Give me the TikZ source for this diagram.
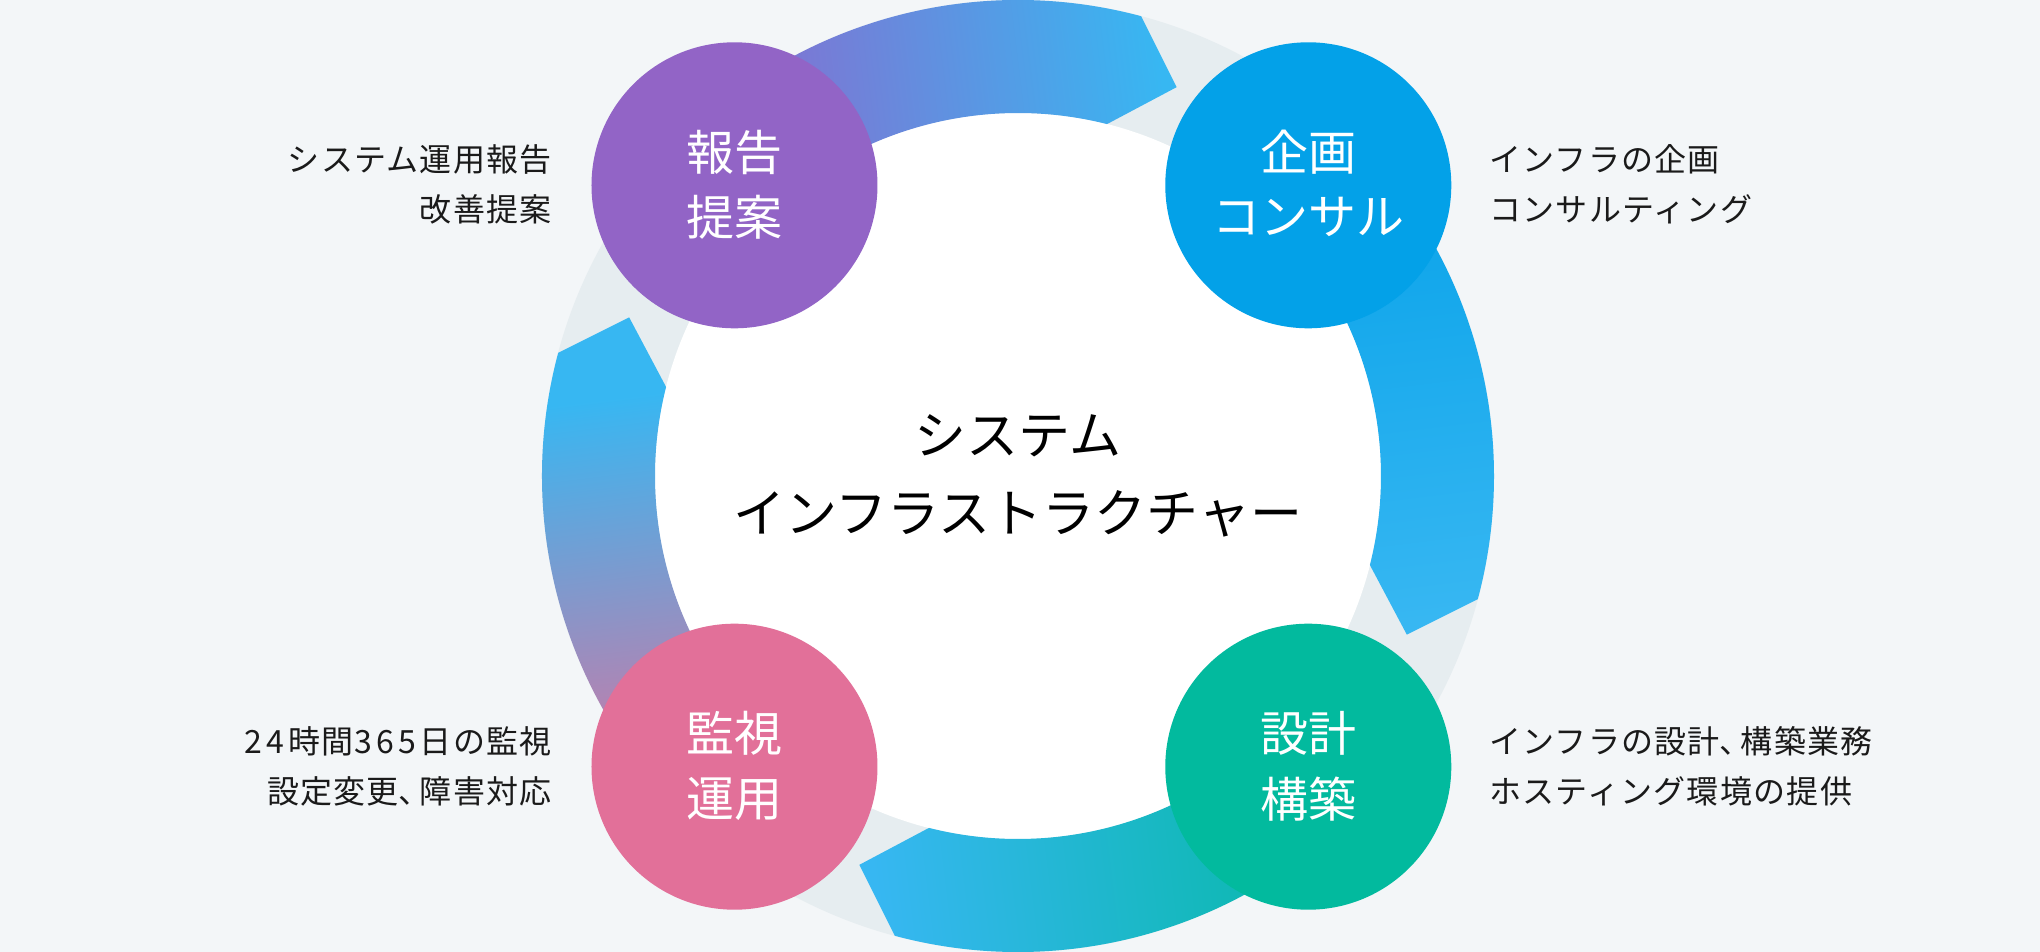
\documentclass[tikz,border=0pt]{standalone}
\usepackage{fontspec}
\setmainfont{Noto Sans CJK JP}
\newfontfamily\sidefont{Noto Sans CJK JP}[LetterSpace=4]
\newcommand\halfcomma{{\addfontfeature{RawFeature=+halt}、}\kern5pt}
\newcommand\dg[1]{#1\kern4pt}
\definecolor{bgc}{HTML}{F3F6F8}
\definecolor{ringc}{HTML}{E6EDF0}
\definecolor{purplec}{HTML}{9264C6}
\definecolor{bluec}{HTML}{03A1E8}
\definecolor{tealc}{HTML}{02BA9E}
\definecolor{pinkc}{HTML}{E27099}
\definecolor{lightc}{HTML}{37B7F2}
\definecolor{txtc}{HTML}{1A1A1A}
\definecolor{arrpurple}{HTML}{8E66CC}
\definecolor{arrblue}{HTML}{07A2E9}
\definecolor{arrteal}{HTML}{05B8A5}
\definecolor{arrpink}{HTML}{E2709A}
\pgfdeclareverticalshading{leftarrow}{100bp}{color(0bp)=(arrpink); color(22bp)=(arrpink); color(68bp)=(lightc); color(100bp)=(lightc)}
\begin{document}
\begin{tikzpicture}[x=1pt,y=1pt,
  sidetext/.style={font=\sidefont\fontsize{32}{38}\selectfont, text=txtc, inner sep=0pt},
  circtext/.style={font=\fontsize{48}{56}\selectfont, text=white, inner sep=0pt},
  centertext/.style={font=\fontsize{52}{60}\selectfont, text=black, inner sep=0pt},
  stage/.style={circle, minimum size=286pt, inner sep=0pt, draw=none}]
\fill[bgc] (-1018,-476) rectangle (1022,476);
\useasboundingbox (-1018,-476) rectangle (1022,476);
% ring
\fill[ringc] (0,0) circle[radius=476];
\fill[white] (0,0) circle[radius=363];
% arrows
\shade[left color=arrpurple, right color=lightc, shading angle=97]
  (135:476) arc[start angle=135, end angle=75, radius=476] -- (67.8:420) -- (75.8:363)
  arc[start angle=75.8, end angle=135, radius=363] -- cycle;
\shade[top color=arrblue, bottom color=lightc, shading angle=7]
  (45:476) arc[start angle=45, end angle=-15, radius=476] -- (-22.2:420) -- (-14.2:363)
  arc[start angle=-14.2, end angle=45, radius=363] -- cycle;
\shade[left color=lightc, right color=arrteal, shading angle=97]
  (-45:476) arc[start angle=-45, end angle=-105, radius=476] -- (-112.2:420) -- (-104.2:363)
  arc[start angle=-104.2, end angle=-45, radius=363] -- cycle;
\shade[shading=leftarrow, shading angle=7]
  (-135:476) arc[start angle=-135, end angle=-195, radius=476] -- (-202.2:420) -- (-194.2:363)
  arc[start angle=-194.2, end angle=-135, radius=363] -- cycle;
% stage circles
\node[stage, fill=purplec] (hokoku) at (-283.5,290.7) {};
\node[stage, fill=bluec] (kikaku) at (290.3,290.7) {};
\node[stage, fill=tealc] (sekkei) at (290.3,-290.7) {};
\node[stage, fill=pinkc] (kanshi) at (-283.5,-290.7) {};
\node[circtext] (hokoku1) at ([yshift=33pt]hokoku.center) {報告};
\node[circtext] (hokoku2) at ([yshift=-32pt]hokoku.center) {提案};
\node[circtext] (kikaku1) at ([yshift=33pt]kikaku.center) {企画};
\node[circtext] (kikaku2) at ([yshift=-32pt]kikaku.center) {コンサル};
\node[circtext] (sekkei1) at ([yshift=33pt]sekkei.center) {設計};
\node[circtext] (sekkei2) at ([yshift=-32pt]sekkei.center) {構築};
\node[circtext] (kanshi1) at ([yshift=33pt]kanshi.center) {監視};
\node[circtext] (kanshi2) at ([yshift=-32pt]kanshi.center) {運用};
% center text
\node[centertext] (c1) at (0,40) {システム};
\node[centertext] (c2) at (0,-38) {インフラストラクチャー};
% side texts
\node[sidetext, anchor=east] (tl1) at (-466,317) {システム運用報告};
\node[sidetext, anchor=east] (tl2) at (-466,266.5) {改善提案};
\node[sidetext, anchor=west] (tr1) at (471,317) {インフラの企画};
\node[sidetext, anchor=west] (tr2) at (471,266.5) {コンサルティング};
\node[sidetext, anchor=east] (bl1) at (-466,-265) {\dg{2}\dg{4}時間\dg{3}\dg{6}\dg{5}日の監視};
\node[sidetext, anchor=east] (bl2) at (-466,-315) {設定変更\halfcomma 障害対応};
\node[sidetext, anchor=west] (br1) at (471,-265) {インフラの設計\halfcomma 構築業務};
\node[sidetext, anchor=west] (br2) at (471,-315) {ホスティング環境の提供};
\end{tikzpicture}
\end{document}
